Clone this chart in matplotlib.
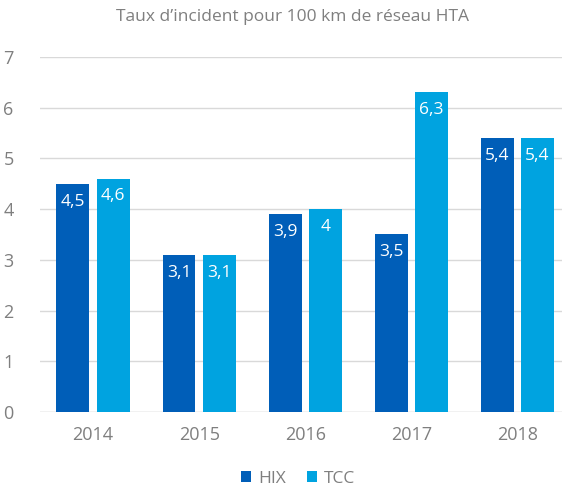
import numpy as np
import matplotlib.pyplot as plt

plt.rcParams['font.family'] = ['Open Sans', 'DejaVu Sans']

# données
annees = ['2014', '2015', '2016', '2017', '2018']
hix = [4.5, 3.1, 3.9, 3.5, 5.4]
tcc = [4.6, 3.1, 4.0, 6.3, 5.4]

col_hix = '#005EB8'
col_tcc = '#00A3E0'
gris = '#7F7F7F'

fig = plt.figure(figsize=(5.62, 4.90), dpi=100)
ax = fig.add_axes([40 / 562, 78 / 490, 1 - 40 / 562, (412 - 57) / 490])

x = np.arange(len(annees))
w = 0.31
off = 0.19
b1 = ax.bar(x - off, hix, w, color=col_hix, label='HIX', zorder=3)
b2 = ax.bar(x + off, tcc, w, color=col_tcc, label='TCC', zorder=3)

# étiquettes dans les barres
for bars, vals in [(b1, hix), (b2, tcc)]:
    for rect, v in zip(bars, vals):
        txt = f'{v:g}'.replace('.', ',')
        ax.annotate(txt, (rect.get_x() + rect.get_width() / 2, v),
                    xytext=(0, -7), textcoords='offset points',
                    ha='center', va='top', color='white', fontsize=12.5, zorder=4)

ax.set_ylim(0, 7)
ax.set_xlim(-0.5, 4.42)
ax.set_yticks(range(8))
ax.set_xticks(x)
ax.set_xticklabels(annees)
ax.yaxis.grid(True, color='#D9D9D9', linewidth=1, zorder=0)
for s in ax.spines.values():
    s.set_visible(False)
ax.axhline(0, color='#D9D9D9', linewidth=1, zorder=2)
ax.tick_params(axis='both', length=0, colors=gris, labelsize=13)
ax.tick_params(axis='y', pad=19)
ax.tick_params(axis='x', pad=10)

fig.text(292 / 562, 1 - 17 / 490, 'Taux d\u2019incident pour 100 km de réseau HTA',
         ha='center', va='center', color=gris, fontsize=12.5)

fig.legend(handles=[b1, b2], loc='center', bbox_to_anchor=(298 / 562, 1 - 479 / 490),
           ncol=2, frameon=False, fontsize=12.5, labelcolor=gris,
           borderpad=0.2, handlelength=0.6, handleheight=0.6, handletextpad=0.4,
           columnspacing=1.2)

fig.savefig('out.png', dpi=100)
